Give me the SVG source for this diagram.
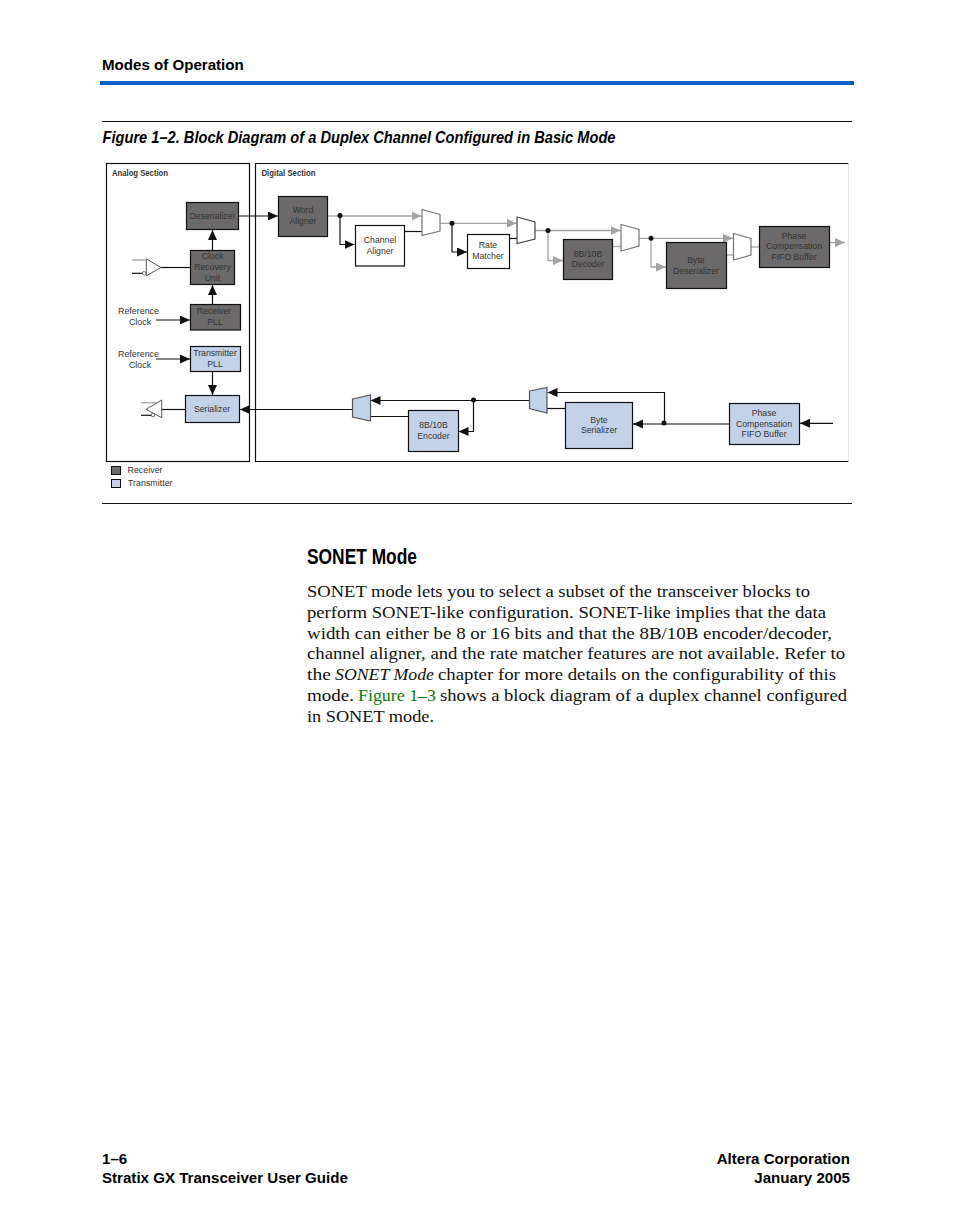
<svg xmlns="http://www.w3.org/2000/svg" width="954" height="1227" viewBox="0 0 954 1227">
<style>
text{font-family:"Liberation Sans",Arial,sans-serif;fill:#000}
.b{font-weight:bold;font-size:15.100px}
.body{font-family:"Liberation Serif","Times New Roman",serif;font-size:17.500px;fill:#111}
.l{font-size:8.900px;fill:#333;text-anchor:middle}
.lk{font-size:8.900px;fill:#333}
.d{font-size:8.700px;fill:#333;text-anchor:middle}
.s{font-weight:bold;font-size:8.500px;fill:#333}
.rx{fill:#6b6969;stroke:#111;stroke-width:1.200}
.tx{fill:#c3d2e9;stroke:#111;stroke-width:1.200}
.w{fill:#fff;stroke:#111;stroke-width:1.200}
.c{fill:none;stroke:#111;stroke-width:1.200}
.g{fill:none;stroke:#a3a3a3;stroke-width:1.300}
.ah{fill:#111}.ag{fill:#a3a3a3}
.mw{fill:#fff;stroke:#777;stroke-width:1.200}
.mt{fill:#c3d2e9;stroke:#555;stroke-width:1.200}
</style>
<defs>
<marker id="k" markerUnits="userSpaceOnUse" markerWidth="11" markerHeight="10" refX="10" refY="4.500" orient="auto"><path class="ah" d="M0 0L10 4.500L0 9Z"/></marker>
<marker id="q" markerUnits="userSpaceOnUse" markerWidth="11" markerHeight="10" refX="10" refY="4.500" orient="auto"><path class="ag" d="M0 0L10 4.500L0 9Z"/></marker>
</defs>

<text class="b" x="102" y="70">Modes of Operation</text>
<rect x="100" y="81" width="754" height="4" fill="#0a5fc4"/>
<path d="M102 121.500H852M102 503.500H852" stroke="#111" stroke-width="1" fill="none"/>
<text x="102.500" y="142.500" font-size="17" font-weight="bold" font-style="italic" textLength="513" lengthAdjust="spacingAndGlyphs">Figure 1–2. Block Diagram of a Duplex Channel Configured in Basic Mode</text>

<g id="sections">
<rect x="106.500" y="163.500" width="143" height="298" fill="#fff" stroke="#111" stroke-width="1.200"/>
<path d="M848.500 163.500H255.500V461.500H848.500" fill="#fff" stroke="#111" stroke-width="1.200"/>
<path d="M848.500 163.500V461.500" stroke="#e4e4e4" stroke-width="1" fill="none"/>
<text class="s" x="112" y="176" textLength="56" lengthAdjust="spacingAndGlyphs">Analog Section</text>
<text class="s" x="261.500" y="176" textLength="54" lengthAdjust="spacingAndGlyphs">Digital Section</text>
</g>

<g id="connectors">
<path class="c" d="M238.500 216H278" marker-end="url(#k)"/>
<path class="c" d="M212.500 250.500V230" marker-end="url(#k)"/>
<path class="c" d="M212.500 304.500V285" marker-end="url(#k)"/>
<path class="c" d="M156 320H190" marker-end="url(#k)"/>
<path class="c" d="M156 359H190" marker-end="url(#k)"/>
<path class="c" d="M212.500 371.500V395" marker-end="url(#k)"/>
<path class="c" d="M161 267.500H190.500"/>
<path class="c" d="M132 273.300H143"/><path class="g" d="M132 260H146"/>
<path class="c" d="M162 409.500H185.500"/>
<path class="g" d="M141 402.700H156"/><path class="c" d="M141 415.300H152"/>
<path class="g" d="M327.500 216H340"/>
<path class="g" d="M340 216H421.500" marker-end="url(#q)"/>
<path class="c" d="M340 216V244.500H354.500" marker-end="url(#k)"/>
<path class="c" d="M404.500 231.500H422"/>
<path class="g" d="M440 223.300H516.500" marker-end="url(#q)"/>
<path class="c" d="M452 223.300V252H467" marker-end="url(#k)"/>
<path class="c" d="M509.500 238.500H517"/>
<path class="g" d="M535 230.500H620.500" marker-end="url(#q)"/>
<path class="g" d="M548 230.500V260.500H563" marker-end="url(#q)"/>
<path class="g" d="M612.500 246.500H621"/>
<path class="g" d="M639 238.300H733" marker-end="url(#q)"/>
<path class="g" d="M651 238.300V267H666" marker-end="url(#q)"/>
<path class="g" d="M726.500 255H734"/>
<path class="g" d="M751 247H759.500"/>
<path class="g" d="M829.500 242.500H845" marker-end="url(#q)"/>
<path class="c" d="M352 409.500H240" marker-end="url(#k)"/>
<path class="c" d="M529 400.500H370.500" marker-end="url(#k)"/>
<path class="c" d="M473.500 400.500V431.500H458.500" marker-end="url(#k)"/>
<path class="c" d="M408.500 416.500H370"/>
<path class="c" d="M565.500 408.500H547"/>
<path class="c" d="M664.500 423.500V392.500H547.500" marker-end="url(#k)"/>
<path class="c" d="M729.500 424H633" marker-end="url(#k)"/>
<path class="c" d="M833 423.300H800" marker-end="url(#k)"/>
<g fill="#111"><circle cx="340" cy="215.500" r="2.500"/><circle cx="452" cy="223.300" r="2.500"/><circle cx="548" cy="230.500" r="2.500"/><circle cx="651" cy="238.300" r="2.500"/><circle cx="473.500" cy="400" r="2.500"/><circle cx="664" cy="423" r="2.500"/></g>
</g>

<g id="buffer-rx"><path d="M146.300 258.800L161 267.500L146.300 275.800Z" fill="#fff" stroke="#555" stroke-width="1"/><circle cx="144" cy="273.300" r="1.800" fill="#fff" stroke="#555" stroke-width=".8"/></g>
<g id="buffer-tx"><path d="M161.700 400L146 409.300L161.700 417.700Z" fill="#fff" stroke="#555" stroke-width="1"/><circle cx="153" cy="415" r="1.800" fill="#fff" stroke="#555" stroke-width=".8"/></g>
<text class="l" x="138.500" y="314">Reference</text><text class="l" x="140" y="325">Clock</text>
<text class="l" x="138.500" y="357">Reference</text><text class="l" x="140" y="368">Clock</text>

<g id="deserializer"><rect class="rx" x="186.500" y="202.500" width="52" height="27"/><text class="d" x="212.500" y="219">Deserializer</text></g>
<g id="cru"><rect class="rx" x="190.500" y="250.500" width="44" height="34"/><text class="d" x="212.500" y="259">Clock</text><text class="d" x="212.500" y="270">Recovery</text><text class="d" x="212.500" y="281">Unit</text></g>
<g id="rx-pll"><rect class="rx" x="190.500" y="304.500" width="50" height="25.500"/><text class="d" x="214" y="314">Receiver</text><text class="d" x="215" y="325">PLL</text></g>
<g id="tx-pll"><rect class="tx" x="190.500" y="346.500" width="50" height="25"/><text class="d" x="215" y="356">Transmitter</text><text class="d" x="215" y="367">PLL</text></g>
<g id="serializer"><rect class="tx" x="185.500" y="395.500" width="54" height="27"/><text class="d" x="212" y="412">Serializer</text></g>
<g id="word-aligner"><rect class="rx" x="278.500" y="196.500" width="49" height="40"/><text class="d" x="303" y="213">Word</text><text class="d" x="303" y="224">Aligner</text></g>
<g id="channel-aligner"><rect class="w" x="355.500" y="225.500" width="49" height="40.500"/><text class="d" x="380" y="243">Channel</text><text class="d" x="380" y="254">Aligner</text></g>
<g id="rate-matcher"><rect class="w" x="467.500" y="234.500" width="42" height="34"/><text class="d" x="488" y="248">Rate</text><text class="d" x="488" y="259">Matcher</text></g>
<g id="decoder"><rect class="rx" x="563.500" y="239.500" width="49" height="40"/><text class="d" x="588" y="257">8B/10B</text><text class="d" x="588" y="267">Decoder</text></g>
<g id="byte-deserializer"><rect class="rx" x="666.500" y="242.500" width="60" height="46"/><text class="d" x="696" y="263">Byte</text><text class="d" x="696" y="274">Deserializer</text></g>
<g id="phase-rx"><rect class="rx" x="759.500" y="226.500" width="70" height="41"/><text class="d" x="794" y="239">Phase</text><text class="d" x="794" y="249">Compensation</text><text class="d" x="794" y="260">FIFO Buffer</text></g>
<g id="encoder"><rect class="tx" x="408.500" y="410.500" width="50" height="41"/><text class="d" x="433.500" y="428">8B/10B</text><text class="d" x="433.500" y="439">Encoder</text></g>
<g id="byte-serializer"><rect class="tx" x="565.500" y="402.500" width="67" height="46"/><text class="d" x="599" y="423">Byte</text><text class="d" x="599" y="433">Serializer</text></g>
<g id="phase-tx"><rect class="tx" x="729.500" y="403.500" width="70" height="41"/><text class="d" x="764" y="416">Phase</text><text class="d" x="764" y="427">Compensation</text><text class="d" x="764" y="437">FIFO Buffer</text></g>

<g id="mux1"><path class="mw" d="M422 209.500L440 214.500V231L422 235.500Z"/></g>
<g id="mux2"><path class="mw" style="stroke:#444" d="M517 217L535 222V239L517 243.500Z"/></g>
<g id="mux3"><path class="mw" d="M621 224.500L639 229.500V246L621 251Z"/></g>
<g id="mux4"><path class="mw" d="M733.500 233.500L751 238.500V255L733.500 260Z"/></g>
<g id="mux5"><path class="mt" d="M352.500 399L370.500 395V421L352.500 417Z"/></g>
<g id="mux6"><path class="mt" d="M529.500 391L547 387.500V413L529.500 408.500Z"/></g>

<g id="legend"><rect x="111.500" y="466.500" width="9" height="8" fill="#6b6969" stroke="#111"/><rect x="111.500" y="479.500" width="9" height="8" fill="#c3d2e9" stroke="#111"/><text class="lk" x="127.500" y="473">Receiver</text><text class="lk" x="128" y="486">Transmitter</text></g>

<text x="307" y="563.500" font-size="22" font-weight="bold" textLength="110" lengthAdjust="spacingAndGlyphs">SONET Mode</text>
<text class="body" x="307" y="596.500" textLength="503" lengthAdjust="spacingAndGlyphs">SONET mode lets you to select a subset of the transceiver blocks to</text>
<text class="body" x="307" y="617.500" textLength="519" lengthAdjust="spacingAndGlyphs">perform SONET-like configuration. SONET-like implies that the data</text>
<text class="body" x="307" y="638.500" textLength="525" lengthAdjust="spacingAndGlyphs">width can either be 8 or 16 bits and that the 8B/10B encoder/decoder,</text>
<text class="body" x="307" y="659" textLength="538" lengthAdjust="spacingAndGlyphs">channel aligner, and the rate matcher features are not available. Refer to</text>
<text class="body" x="307" y="679.500" textLength="24" lengthAdjust="spacingAndGlyphs">the</text>
<text class="body" x="335" y="679.500" font-style="italic" textLength="99" lengthAdjust="spacingAndGlyphs">SONET Mode</text>
<text class="body" x="438" y="679.500" textLength="398" lengthAdjust="spacingAndGlyphs">chapter for more details on the configurability of this</text>
<text class="body" x="307" y="700.500" textLength="47" lengthAdjust="spacingAndGlyphs">mode.</text>
<text class="body" x="358" y="700.500" style="fill:#0a7a12" textLength="78" lengthAdjust="spacingAndGlyphs">Figure 1–3</text>
<text class="body" x="440" y="700.500" textLength="407" lengthAdjust="spacingAndGlyphs">shows a block diagram of a duplex channel configured</text>
<text class="body" x="307" y="721.500" textLength="127" lengthAdjust="spacingAndGlyphs">in SONET mode.</text>

<text class="b" x="102" y="1164">1–6</text>
<text class="b" x="102" y="1183">Stratix GX Transceiver User Guide</text>
<text class="b" x="850" y="1164" text-anchor="end">Altera Corporation</text>
<text class="b" x="850" y="1183" text-anchor="end">January 2005</text>
</svg>
